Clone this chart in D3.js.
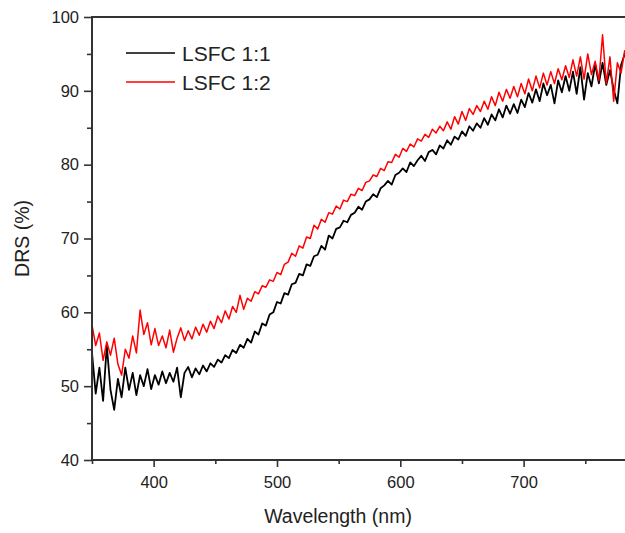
<!DOCTYPE html>
<html>
<head>
<meta charset="utf-8">
<script src="https://cdn.jsdelivr.net/npm/d3@7"></script>
<style>
  body { margin: 0; background: #fff; }
  svg { display: block; font-family: "Liberation Sans", Arial, sans-serif; }
  .axis path, .axis line { stroke: #333; }
  .axis text { fill: #222; }
</style>
</head>
<body>
<div id="chart"></div>
<script>
// wavelength grid, 3 nm steps
var startNm = 350, stepNm = 3;

// DRS (%)
var lsfc11 = [54.5,49.0,52.5,48.0,55.5,49.5,46.8,51.0,48.5,52.5,49.5,51.8,48.8,51.5,50.0,52.3,49.6,51.5,50.2,52.0,
  50.4,51.8,50.6,52.5,48.5,51.8,52.6,51.2,52.4,51.6,52.8,52.0,53.1,52.6,53.6,53.2,54.2,53.8,54.9,54.5,
  55.6,55.2,56.4,55.9,57.4,57.0,58.5,58.2,59.7,60.0,61.4,61.2,62.6,62.4,63.8,64.0,65.2,65.0,66.5,66.3,
  67.6,67.8,69.0,68.5,70.4,70.0,71.3,71.5,72.4,72.2,73.2,73.5,74.3,73.9,75.0,75.3,76.0,75.6,76.8,77.2,
  77.8,77.3,78.6,78.9,79.5,79.0,80.3,79.8,80.6,81.2,80.5,81.7,82.0,81.4,82.6,82.2,83.3,82.7,83.8,83.4,
  84.5,83.9,85.2,84.6,85.6,85.0,86.3,85.4,86.8,86.0,87.5,86.4,88.0,86.9,88.2,87.0,88.8,87.8,89.7,88.4,
  90.2,88.6,91.0,89.4,90.8,88.3,91.4,89.8,92.0,90.0,92.6,89.6,93.2,88.8,92.4,90.6,93.6,91.0,93.8,90.8,
  92.8,90.2,88.3,93.5,95.0];

var lsfc12 = [58.3,55.5,57.2,53.5,56.0,54.2,56.5,53.0,51.5,55.0,53.8,56.8,54.5,60.3,57.0,58.6,55.6,57.8,55.5,56.8,
  55.2,57.6,54.6,56.5,57.9,56.2,57.5,56.4,58.0,56.9,58.4,57.3,58.8,57.8,59.5,58.6,60.2,59.1,60.8,60.0,
  62.3,60.4,61.9,61.5,62.8,62.5,63.6,63.4,64.4,64.2,65.4,65.1,66.5,66.8,68.0,67.6,69.0,68.7,70.2,70.0,
  71.8,71.3,72.6,72.2,73.5,73.3,74.4,74.0,75.2,75.0,76.0,75.8,76.8,76.5,77.6,77.8,78.6,78.4,79.5,79.2,
  80.4,80.3,81.4,81.0,82.2,81.8,82.8,82.4,83.5,83.2,84.1,83.7,84.8,84.3,85.2,84.6,85.8,84.8,86.5,85.5,
  87.2,86.0,87.6,86.8,88.0,87.2,88.6,87.5,89.2,88.0,89.8,88.6,90.2,89.0,90.6,89.2,91.0,89.6,91.6,90.0,
  92.0,90.4,92.4,90.8,92.6,91.0,93.0,91.5,93.4,91.8,94.2,92.0,94.6,91.6,95.0,92.2,94.0,91.4,97.6,91.0,
  94.6,88.6,93.8,92.4,95.5];

var seriesNames = ["LSFC 1:1", "LSFC 1:2"];
var seriesColors = ["#000000", "#ff0000"];
var xTicks = [400, 500, 600, 700];
var xMinor = [350, 450, 550, 650, 750];
var yTicks = [40, 50, 60, 70, 80, 90, 100];
var yMinor = [45, 55, 65, 75, 85, 95];

var svgWidth = 625, svgHeight = 533;

var svg = d3.select("#chart").append("svg")
    .attr("width", svgWidth)
    .attr("height", svgHeight);

var xScale = d3.scaleLinear().domain([350, 750]).range([92, 585.3]);
var yScale = d3.scaleLinear().domain([40, 100]).range([460, 17]);

var plotLeft = xScale(350), plotTop = yScale(100), plotBottom = yScale(40);

svg.append("clipPath").attr("id", "clip")
  .append("rect")
    .attr("x", plotLeft).attr("y", plotTop)
    .attr("width", svgWidth - plotLeft + 10)
    .attr("height", plotBottom - plotTop);

function toPoints(arr) {
    return arr.map(function(v, i) { return { x: startNm + i * stepNm, y: v }; });
}

var line = d3.line()
    .x(function(d) { return xScale(d.x); })
    .y(function(d) { return yScale(d.y); });

var plot = svg.append("g").attr("clip-path", "url(#clip)");

plot.append("path")
    .datum(toPoints(lsfc11))
    .attr("fill", "none")
    .attr("stroke", seriesColors[0])
    .attr("stroke-width", 1.8)
    .attr("stroke-linejoin", "round")
    .attr("d", line);

plot.append("path")
    .datum(toPoints(lsfc12))
    .attr("fill", "none")
    .attr("stroke", seriesColors[1])
    .attr("stroke-width", 1.5)
    .attr("stroke-linejoin", "round")
    .attr("d", line);

// x axis
var xAxis = svg.append("g")
    .attr("class", "axis")
    .attr("transform", "translate(0," + plotBottom + ")")
    .call(d3.axisBottom(xScale).tickValues(xTicks).tickSize(7).tickPadding(6).tickSizeOuter(0));
xAxis.select(".domain").remove();
svg.append("g")
    .attr("class", "axis")
    .attr("transform", "translate(0," + plotBottom + ")")
    .call(d3.axisBottom(xScale).tickValues(xMinor).tickSize(4).tickFormat("").tickSizeOuter(0))
    .select(".domain").remove();
xAxis.selectAll("text").attr("font-size", 16.5).attr("dy", "0.9em");

// y axis
var yAxis = svg.append("g")
    .attr("class", "axis")
    .attr("transform", "translate(" + plotLeft + ",0)")
    .call(d3.axisLeft(yScale).tickValues(yTicks).tickSize(8).tickPadding(5).tickSizeOuter(0));
yAxis.select(".domain").remove();
svg.append("g")
    .attr("class", "axis")
    .attr("transform", "translate(" + plotLeft + ",0)")
    .call(d3.axisLeft(yScale).tickValues(yMinor).tickSize(5).tickFormat("").tickSizeOuter(0))
    .select(".domain").remove();
yAxis.selectAll("text").attr("font-size", 16.5);

svg.selectAll(".axis line").attr("stroke-width", 1.6);

// frame lines (left, bottom, top)
svg.append("path")
    .attr("d", "M" + svgWidth + "," + plotTop + "H" + plotLeft + "V" + plotBottom + "H" + svgWidth)
    .attr("fill", "none")
    .attr("stroke", "#333")
    .attr("stroke-width", 2);

// axis titles
svg.append("text")
    .attr("x", 338)
    .attr("y", 523)
    .attr("text-anchor", "middle")
    .attr("font-size", 19.5)
    .attr("fill", "#222")
    .text("Wavelength (nm)");

svg.append("text")
    .attr("transform", "translate(29," + ((plotTop + plotBottom) / 2) + ") rotate(-90)")
    .attr("text-anchor", "middle")
    .attr("font-size", 19.5)
    .attr("fill", "#222")
    .text("DRS (%)");

// legend
var legend = svg.append("g").attr("transform", "translate(126,53)");
seriesNames.forEach(function(name, i) {
    var g = legend.append("g").attr("transform", "translate(0," + (i * 29) + ")");
    g.append("line")
        .attr("x1", 0).attr("x2", 49)
        .attr("stroke", seriesColors[i])
        .attr("stroke-width", 1.5);
    g.append("text")
        .attr("x", 56)
        .attr("y", 7.5)
        .attr("font-size", 21)
        .attr("fill", "#222")
        .text(name);
});
</script>
</body>
</html>
